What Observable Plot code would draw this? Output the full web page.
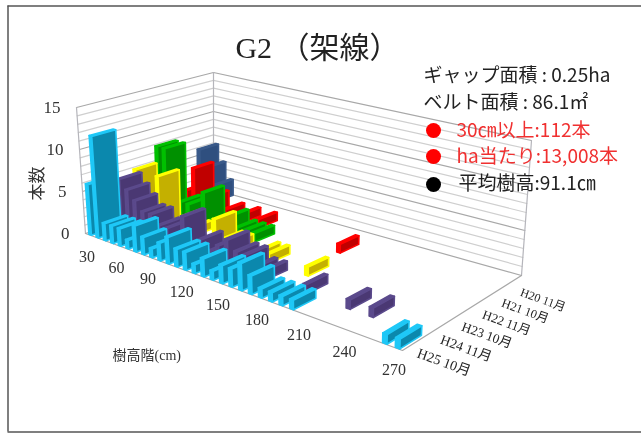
<!DOCTYPE html>
<html><head><meta charset="utf-8">
<script src="https://cdn.jsdelivr.net/npm/d3@7"></script>
<script src="https://cdn.jsdelivr.net/npm/@observablehq/plot@0.6"></script>
<style>body{margin:0;background:#fff}svg{display:block;filter:blur(0.4px)}</style>
</head><body><div id="chart"></div>
<script>
// Height classes (cm) and survey series, back to front
const heightClasses = d3.range(30,277.5,7.5);
const tickClasses = [30,60,90,120,150,180,210,240,270];
const countTicks = [0,5,10,15];
const seriesNames = ["H20 11月","H21 10月","H22 11月","H23 10月","H24 11月","H25 10月"];
const h20 = [6,4,2,0,0,0,0,0,0,0,0,0,0,0,0,0,0,0,0,0,0,0,0,0,0,0,0,0,0,0,0,0,0];
const h21 = [0,2,5,0,2,0,1,0,1,0,1,0,0,0,0,0,0,0,0,1,0,0,0,0,0,0,0,0,0,0,0,0,0];
const h22 = [8,8,0,2,2,0,4,1,0,2,1,1,1,0,0,0,0,0,0,0,0,0,0,0,0,0,0,0,0,0,0,0,0];
const h23 = [6,0,3,6,0,0,2,1,0,0,3,1,1,0,0,1,1,0,0,0,1,0,0,0,0,0,0,0,0,0,0,0,0];
const h24 = [0,6,5,4,3,3,2,2,1,4,1,2,1,2,3,2,2,1,1,0,0,0,1,0,0,0,1,0,1,0,0,0,0];
const h25 = [6,12,2,2,2,1,3,2,1,2,3,2,2,1,2,1,2,2,3,2,1,1,1,1,0,0,0,0,0,0,0,1,1];
const seriesValues = [h20,h21,h22,h23,h24,h25];
const darkColors = ["#2f4f7f","#c00000","#009000","#c4b000","#4a3873","#0b88ad"];
const brightColors = ["#3a5a8a","#ff0000","#00c000","#ffff00","#5b4a8c","#1fc8f7"];

// Camera of the 3D chart, expressed as where its box lands
const floorBox = [[85,233],[402,350],[521,275],[213,189]];
const topBox = [[76,107],[407,203],[531,140],[213,72]];
function homography(q){
  const [[x0,y0],[x1,y1],[x2,y2],[x3,y3]] = q;
  const dx1=x1-x2,dx2=x3-x2,sx=x0-x1+x2-x3,dy1=y1-y2,dy2=y3-y2,sy=y0-y1+y2-y3;
  const det=dx1*dy2-dx2*dy1,g=(sx*dy2-dx2*sy)/det,h=(dx1*sy-sx*dy1)/det;
  const a=x1-x0+g*x1,b=x3-x0+h*x3,d=y1-y0+g*y1,e=y3-y0+h*y3;
  return (u,v)=>{const w=g*u+h*v+1;return [(a*u+b*v+x0)/w,(d*u+e*v+y0)/w];};
}
const floorH=homography(floorBox), topH=homography(topBox);
const zMax=15, nX=heightClasses.length, nS=seriesNames.length;
function proj(i,s,z){ // i: class position, s: series depth position from front
  const u=i/nX, v=s/nS, f=floorH(u,v), t=topH(u,v), k=z/zMax;
  return [f[0]+(t[0]-f[0])*k, f[1]+(t[1]-f[1])*k];
}
const barW=0.35, barD=0.95, barOffset=0.4;
const polys=[];
function addPoly(id,pts,fill,stroke){pts.forEach(p=>polys.push({id,x:p[0],y:p[1],fill,stroke}));}
let pid=0;
seriesValues.forEach((vals,si)=>{
  const s0=(nS-1-si)+(1-barD)/2, s1=s0+barD;
  vals.forEach((val,i)=>{
    if(!val) return;
    const i0=i+barOffset,i1=i0+barW;
    const dark=darkColors[si],bright=brightColors[si];
    addPoly(pid++,[proj(i0,s0,0),proj(i1,s0,0),proj(i1,s0,val),proj(i0,s0,val)],bright,bright);
    addPoly(pid++,[proj(i0,s0,val),proj(i1,s0,val),proj(i1,s1,val),proj(i0,s1,val)],bright,bright);
    addPoly(pid++,[proj(i1,s0,0),proj(i1,s1,0),proj(i1,s1,val),proj(i1,s0,val)],dark,bright);
  });
});
// wall grid
const grid=[];
d3.range(0,zMax+1).forEach(z=>{
  const c=z%5===0?"#a8a8a8":"#cfcfcf";
  [proj(0,0,z),proj(0,nS,z),proj(nX,nS,z)].forEach(p=>grid.push({id:"g"+z,x:p[0],y:p[1],c}));
});
[[0,0],[0,nS],[nX,nS]].forEach(([a,b])=>{[0,zMax].forEach(z=>{const p=proj(a,b,z);grid.push({id:"e"+a+b,x:p[0],y:p[1],c:"#b5b5bb"});});});
[[0,0],[nX,0],[nX,nS]].forEach(([a,b])=>{const p=proj(a,b,0);grid.push({id:"floor",x:p[0],y:p[1],c:"#a8a8a8"});});

const serif='"Liberation Serif","Noto Sans CJK JP",serif', sans='"Noto Sans CJK JP",sans-serif';
const yTicks=countTicks.map(z=>{const p=proj(0,0,z);return{x:p[0],y:p[1],t:String(z)};});
const xTicks=tickClasses.map(c=>{const p=proj(heightClasses.indexOf(c)+.5,0,0);return{x:p[0],y:p[1],t:String(c)};});
const sTicks=seriesNames.map((n,si)=>{const p=proj(nX,nS-1-si+.5,0);return{x:p[0],y:p[1],t:n,fs:12+si*0.4};});
const notes=[
 {t:"ギャップ面積 : 0.25ha",dx:423,dy:75,c:"#222"},
 {t:"ベルト面積 : 86.1㎡",dx:423,dy:102,c:"#222"},
 {t:"30㎝以上:112本",dx:456,dy:130,c:"#f03030"},
 {t:"ha当たり:13,008本",dx:456,dy:156,c:"#f03030"},
 {t:"平均樹高:91.1㎝",dx:458,dy:183,c:"#222"}];
const dots=[{dy:130,c:"#ff0000"},{dy:156,c:"#ff0000"},{dy:184,c:"#000"}];

const plot=Plot.plot({width:641,height:435,margin:0,
  x:{domain:[0,641],range:[0,641],axis:null},
  y:{domain:[0,435],range:[0,435],axis:null},
  color:{type:"identity"},
  marks:[
    Plot.ruleX([7.5],{y1:5.5,y2:431.5,stroke:"#555",strokeWidth:1.5}),
    Plot.ruleY([5.5,431.5],{x1:7.5,x2:641,stroke:"#555",strokeWidth:1.5}),
    Plot.line(grid,{x:"x",y:"y",z:"id",stroke:"c",strokeWidth:1.2}),
    Plot.line(polys,{x:"x",y:"y",z:"id",fill:"fill",stroke:"stroke",strokeWidth:1.6,strokeLinejoin:"round",curve:"linear-closed"}),
    Plot.text(yTicks,{x:"x",y:"y",text:"t",dx:-16,textAnchor:"end",fontFamily:serif,fontSize:17,fill:"#333"}),
    Plot.text(xTicks,{x:"x",y:"y",text:"t",dx:-2,dy:22,fontFamily:serif,fontSize:16,fill:"#333"}),
    Plot.text(sTicks,{x:"x",y:"y",text:"t",dx:30,dy:19,rotate:20,fontFamily:serif,fontSize:"fs",fill:"#222"}),
    Plot.text(["G2 （架線）"],{frameAnchor:"top-left",dx:317,dy:48,textAnchor:"middle",lineAnchor:"middle",fontFamily:serif,fontSize:30,fill:"#222"}),
    Plot.text(["本数"],{frameAnchor:"top-left",dx:37,dy:183,rotate:-90,textAnchor:"middle",lineAnchor:"middle",fontFamily:sans,fontSize:17,fill:"#333"}),
    Plot.text(["樹高階(cm)"],{frameAnchor:"top-left",dx:112,dy:355,textAnchor:"start",lineAnchor:"middle",fontFamily:serif,fontSize:14,fill:"#333"}),
    ...notes.map(n=>Plot.text([n.t],{frameAnchor:"top-left",dx:n.dx,dy:n.dy,textAnchor:"start",lineAnchor:"middle",fontFamily:sans,fontSize:19,fill:n.c})),
    ...dots.map(d=>Plot.dot([0],{frameAnchor:"top-left",dx:433,dy:d.dy,r:7.5,fill:d.c}))
  ]});
document.getElementById("chart").append(plot);
</script></body></html>
